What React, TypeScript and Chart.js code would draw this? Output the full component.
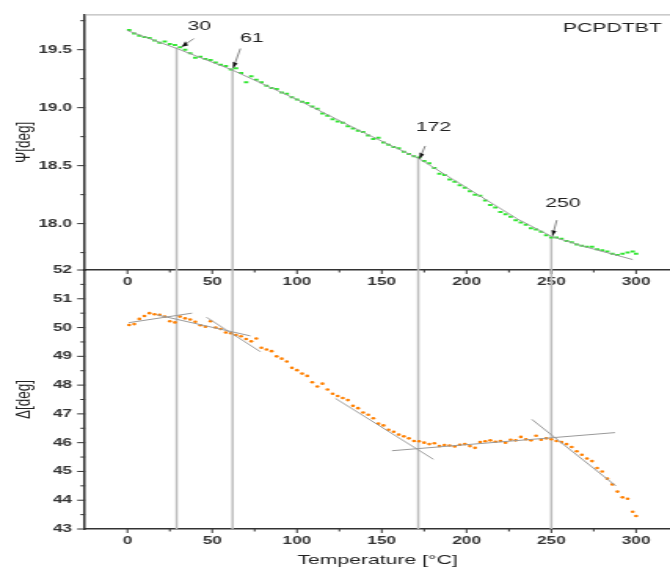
import React, { useEffect, useRef } from 'react';
import { Chart, registerables } from 'chart.js';

Chart.register(...registerables);

// ---------------- data ----------------
const temperature = [
  1, 4, 7, 10, 13, 16, 19, 22, 25, 28,
  31, 34, 37, 40, 43, 46, 49, 52, 55, 58,
  61, 64, 67, 70, 73, 76, 79, 82, 85, 88,
  91, 94, 97, 100, 103, 106, 109, 112, 115, 118,
  121, 124, 127, 130, 133, 136, 139, 142, 145, 148,
  151, 154, 157, 160, 163, 166, 169, 172, 175, 178,
  181, 184, 187, 190, 193, 196, 199, 202, 205, 208,
  211, 214, 217, 220, 223, 226, 229, 232, 235, 238,
  241, 244, 247, 250, 253, 256, 259, 262, 265, 268,
  271, 274, 277, 280, 283, 286, 289, 292, 295, 298,
  300,
];

const psiValues = [
  19.67, 19.64, 19.62, 19.61, 19.6, 19.58, 19.56, 19.57, 19.55, 19.54,
  19.52, 19.5, 19.47, 19.43, 19.44, 19.42, 19.41, 19.39, 19.37, 19.36,
  19.33, 19.34, 19.3, 19.22, 19.27, 19.24, 19.22, 19.19, 19.17, 19.16,
  19.13, 19.12, 19.09, 19.07, 19.05, 19.04, 19.01, 18.99, 18.95, 18.93,
  18.9, 18.88, 18.87, 18.84, 18.82, 18.8, 18.79, 18.76, 18.73, 18.74,
  18.7, 18.68, 18.66, 18.65, 18.62, 18.6, 18.58, 18.57, 18.54, 18.52,
  18.48, 18.43, 18.42, 18.38, 18.36, 18.33, 18.31, 18.28, 18.25, 18.24,
  18.2, 18.16, 18.14, 18.1, 18.08, 18.06, 18.03, 18.01, 17.99, 17.96,
  17.95, 17.93, 17.9, 17.88, 17.88, 17.87, 17.85, 17.84, 17.82, 17.81,
  17.8, 17.8, 17.78, 17.77, 17.76, 17.74, 17.73, 17.74, 17.75, 17.76,
  17.74,
];

const deltaValues = [
  50.09, 50.12, 50.3, 50.4, 50.5, 50.46, 50.44, 50.38, 50.22, 50.18,
  50.38, 50.32, 50.28, 50.2, 50.08, 50.03, 50.22, 50.0, 49.95, 49.83,
  49.8, 49.74, 49.7, 49.6, 49.52, 49.62, 49.3, 49.24, 49.18, 49.0,
  48.92, 48.82, 48.6, 48.52, 48.4, 48.32, 48.1, 47.95, 48.05, 47.85,
  47.7, 47.62, 47.55, 47.48, 47.28, 47.2, 47.05, 46.97, 46.85, 46.66,
  46.6, 46.45, 46.38, 46.28, 46.22, 46.15, 46.06, 46.05, 46.0, 45.95,
  45.98, 45.88, 45.92, 45.9, 45.87, 45.93, 45.95, 45.88, 45.82, 46.02,
  46.05, 46.08, 46.03, 46.06, 46.0, 46.1, 46.08, 46.2, 46.12, 46.08,
  46.24, 46.1, 46.15, 46.12, 46.06, 46.02, 45.95, 45.85, 45.7, 45.58,
  45.45, 45.36, 45.12, 45.0, 44.75, 44.55, 44.3, 44.1, 44.05, 43.6,
  43.45,
];

// gray fit curve through the Ψ data
const psiFitT = [0, 30, 61, 100, 140, 172, 200, 230, 250, 270, 298];
const psiFitV = [19.665, 19.505, 19.33, 19.07, 18.78, 18.56, 18.31, 18.04, 17.89, 17.8, 17.69];

// gray tangent lines in the Δ panel
const tangentStartT = [0.8, 17.5, 46.6, 122.6, 156, 238.5];
const tangentStartD = [50.17, 50.44, 50.36, 47.54, 45.72, 46.81];
const tangentEndT = [38.1, 72.5, 78.4, 180.5, 287.6, 288];
const tangentEndD = [50.5, 49.71, 49.16, 45.42, 46.35, 44.5];

// transition markers
const markerT = [29, 62, 171.5, 250];
const markerLabels = ['30', '61', '172', '250'];
const markerPsi = [19.52, 19.34, 18.56, 17.89];
const labelT = [42.4, 73.4, 180.5, 256.9];
const labelPsi = [19.704, 19.601, 18.827, 18.176];
const arrowFromT = [39.2, 66.6, 175.6, 253.2];
const arrowFromPsi = [19.596, 19.51, 18.67, 18.03];
const arrowToT = [32, 62.3, 172.2, 250.6];
const arrowToPsi = [19.525, 19.34, 18.558, 17.89];

// ticks
const tempTicks = [0, 50, 100, 150, 200, 250, 300];
const tempMinor = [25, 75, 125, 175, 225, 275];
const psiTicks = [18.0, 18.5, 19.0, 19.5];
const psiMinor = [17.75, 18.25, 18.75, 19.25, 19.75];
const deltaTicks = [43, 44, 45, 46, 47, 48, 49, 50, 51, 52];
const deltaMinor = [43.5, 44.5, 45.5, 46.5, 47.5, 48.5, 49.5, 50.5, 51.5];

const sampleName = 'PCPDTBT';

// ---------------- styling ----------------
const CW = 427; // internal canvas width (displayed stretched to 670)
const CH = 570;
const S = 670 / CW;
const FONT = "'Liberation Sans', Arial, Helvetica, sans-serif";
const tickFont = { family: FONT, size: 11, weight: 'bold' as const };
const titleFont = { family: FONT, size: 13.5 };
const GREEN = '#33e633';
const ORANGE = '#ff8000';
const AXIS = '#333';
const VLINE = '#bdbdbd';

function xScale(withTitle: boolean): any {
  return {
    type: 'linear',
    bounds: 'data',
    min: -25,
    max: 320,
    grid: { display: false, drawTicks: false },
    border: { display: true, color: AXIS, width: 1.5 },
    afterBuildTicks: (s: any) => {
      s.ticks = tempTicks.map((value) => ({ value }));
    },
    afterFit: (s: any) => {
      s.height = withTitle ? 41 : 30;
      s.paddingLeft = 0;
      s.paddingRight = 0;
    },
    ticks: {
      font: tickFont,
      color: AXIS,
      padding: 5,
      maxRotation: 0,
      autoSkip: false,
      callback: (v: any) => String(v),
    },
    title: {
      display: withTitle,
      text: 'Temperature [°C]',
      font: titleFont,
      color: '#222',
      padding: { top: 0, bottom: 1.2 },
    },
  };
}

function yScale(min: number, max: number, ticks: number[], digits: number, title: string): any {
  return {
    type: 'linear',
    bounds: 'data',
    min,
    max,
    grid: { display: false, drawTicks: false },
    border: { display: true, color: AXIS, width: 1.5 },
    afterBuildTicks: (s: any) => {
      s.ticks = ticks.map((value) => ({ value }));
    },
    afterFit: (s: any) => {
      s.width = 54.2;
    },
    ticks: {
      font: tickFont,
      color: AXIS,
      padding: 8.3,
      autoSkip: false,
      callback: (v: any) => Number(v).toFixed(digits),
    },
    title: {
      display: true,
      text: title,
      font: titleFont,
      color: '#222',
      padding: { top: 7.5, bottom: 0 },
    },
  };
}

function tickPlugin(yMajor: number[], yMinor: number[]) {
  return {
    id: 'axisTicks',
    afterDraw(chart: any) {
      const { ctx, chartArea } = chart;
      const xs = chart.scales.x;
      const ys = chart.scales.y;
      ctx.save();
      ctx.strokeStyle = AXIS;
      ctx.lineWidth = 1;
      ctx.beginPath();
      yMajor.forEach((v) => {
        const p = ys.getPixelForValue(v);
        ctx.moveTo(chartArea.left - 5, p);
        ctx.lineTo(chartArea.left, p);
      });
      yMinor.forEach((v) => {
        const p = ys.getPixelForValue(v);
        ctx.moveTo(chartArea.left - 3, p);
        ctx.lineTo(chartArea.left, p);
      });
      tempTicks.forEach((v) => {
        const p = xs.getPixelForValue(v);
        ctx.moveTo(p, chartArea.bottom);
        ctx.lineTo(p, chartArea.bottom + 4);
      });
      tempMinor.forEach((v) => {
        const p = xs.getPixelForValue(v);
        ctx.moveTo(p, chartArea.bottom);
        ctx.lineTo(p, chartArea.bottom + 2.5);
      });
      ctx.stroke();
      ctx.restore();
    },
  };
}

const topDecor = {
  id: 'topDecor',
  beforeDatasetsDraw(chart: any) {
    const { ctx, chartArea } = chart;
    const xs = chart.scales.x;
    const ys = chart.scales.y;
    ctx.save();
    ctx.strokeStyle = VLINE;
    ctx.lineWidth = 1.5;
    markerT.forEach((t, i) => {
      const px = xs.getPixelForValue(t);
      ctx.beginPath();
      ctx.moveTo(px, ys.getPixelForValue(markerPsi[i]));
      ctx.lineTo(px, chartArea.bottom);
      ctx.stroke();
    });
    ctx.strokeStyle = '#aaa';
    ctx.lineWidth = 1;
    ctx.beginPath();
    ctx.moveTo(chartArea.left, chartArea.top);
    ctx.lineTo(CW, chartArea.top);
    ctx.stroke();
    ctx.restore();
  },
  afterDatasetsDraw(chart: any) {
    const { ctx, chartArea } = chart;
    const xs = chart.scales.x;
    const ys = chart.scales.y;
    ctx.save();
    for (let i = 0; i < markerT.length; i++) {
      const x0 = xs.getPixelForValue(arrowFromT[i]);
      const y0 = ys.getPixelForValue(arrowFromPsi[i]);
      const x1 = xs.getPixelForValue(arrowToT[i]);
      const y1 = ys.getPixelForValue(arrowToPsi[i]);
      ctx.strokeStyle = '#888';
      ctx.lineWidth = 1;
      ctx.beginPath();
      ctx.moveTo(x0, y0);
      ctx.lineTo(x1, y1);
      ctx.stroke();
      // arrow head computed in displayed (stretched) space
      const dx = (x1 - x0) * S;
      const dy = y1 - y0;
      const len = Math.hypot(dx, dy) || 1;
      const ux = dx / len;
      const uy = dy / len;
      const hl = 6;
      const hw = 2.5;
      const bx = x1 * S - ux * hl;
      const by = y1 - uy * hl;
      ctx.fillStyle = '#111';
      ctx.beginPath();
      ctx.moveTo(x1, y1);
      ctx.lineTo((bx - uy * hw) / S, by + ux * hw);
      ctx.lineTo((bx + uy * hw) / S, by - ux * hw);
      ctx.closePath();
      ctx.fill();
      ctx.fillStyle = '#222';
      ctx.font = `13.5px ${FONT}`;
      ctx.textAlign = 'center';
      ctx.textBaseline = 'middle';
      ctx.fillText(markerLabels[i], xs.getPixelForValue(labelT[i]), ys.getPixelForValue(labelPsi[i]));
    }
    ctx.fillStyle = '#222';
    ctx.font = `13.5px ${FONT}`;
    ctx.textAlign = 'right';
    ctx.textBaseline = 'middle';
    ctx.fillText(sampleName, chartArea.right - 5.3, chartArea.top + 13.6);
    ctx.restore();
  },
};

const bottomDecor = {
  id: 'bottomDecor',
  beforeDatasetsDraw(chart: any) {
    const { ctx, chartArea } = chart;
    const xs = chart.scales.x;
    ctx.save();
    ctx.strokeStyle = VLINE;
    ctx.lineWidth = 1.5;
    markerT.forEach((t) => {
      const px = xs.getPixelForValue(t);
      ctx.beginPath();
      ctx.moveTo(px, chartArea.top);
      ctx.lineTo(px, chartArea.bottom);
      ctx.stroke();
    });
    ctx.restore();
  },
};

function topConfig(): any {
  return {
    type: 'scatter',
    data: {
      datasets: [
        {
          data: temperature.map((t, i) => ({ x: t, y: psiValues[i] })),
          pointStyle: 'line',
          pointRadius: 1.4,
          borderWidth: 2,
          borderColor: GREEN,
          backgroundColor: GREEN,
          order: 2,
        },
        {
          data: psiFitT.map((t, i) => ({ x: t, y: psiFitV[i] })),
          showLine: true,
          pointRadius: 0,
          borderColor: '#9a9a9a',
          borderWidth: 1,
          order: 1,
        },
      ],
    },
    options: {
      responsive: false,
      devicePixelRatio: 1,
      animation: false,
      layout: { autoPadding: false, padding: { left: 0, right: 0, top: 12.7, bottom: 270 } },
      plugins: { legend: { display: false }, tooltip: { enabled: false } },
      scales: {
        x: xScale(false),
        y: yScale(17.6, 19.8, psiTicks, 1, 'Ψ[deg]'),
      },
    },
    plugins: [topDecor, tickPlugin(psiTicks, psiMinor)],
  };
}

function bottomConfig(): any {
  const tangents = tangentStartT.map((t, i) => ({
    data: [
      { x: t, y: tangentStartD[i] },
      { x: tangentEndT[i], y: tangentEndD[i] },
    ],
    showLine: true,
    pointRadius: 0,
    borderColor: '#9a9a9a',
    borderWidth: 1,
    order: 1,
  }));
  return {
    type: 'scatter',
    data: {
      datasets: [
        {
          data: temperature.map((t, i) => ({ x: t, y: deltaValues[i] })),
          pointStyle: 'circle',
          pointRadius: 1.3,
          borderWidth: 0,
          backgroundColor: ORANGE,
          borderColor: ORANGE,
          order: 2,
        },
        ...tangents,
      ],
    },
    options: {
      responsive: false,
      devicePixelRatio: 1,
      animation: false,
      layout: { autoPadding: false, padding: { left: 0, right: 0, top: 270, bottom: 0 } },
      plugins: { legend: { display: false }, tooltip: { enabled: false } },
      scales: {
        x: xScale(true),
        y: yScale(43, 52, deltaTicks, 0, 'Δ[deg]'),
      },
    },
    plugins: [bottomDecor, tickPlugin(deltaTicks, deltaMinor)],
  };
}

export default function App() {
  const topRef = useRef<HTMLCanvasElement>(null);
  const botRef = useRef<HTMLCanvasElement>(null);

  useEffect(() => {
    const top = new Chart(topRef.current as HTMLCanvasElement, topConfig());
    const bot = new Chart(botRef.current as HTMLCanvasElement, bottomConfig());
    return () => {
      top.destroy();
      bot.destroy();
    };
  }, []);

  const style: React.CSSProperties = {
    position: 'absolute',
    left: 0,
    top: 0,
    width: '670px',
    height: `${CH}px`,
  };

  return (
    <div>
      <canvas ref={topRef} width={CW} height={CH} style={style} />
      <canvas ref={botRef} width={CW} height={CH} style={style} />
    </div>
  );
}
